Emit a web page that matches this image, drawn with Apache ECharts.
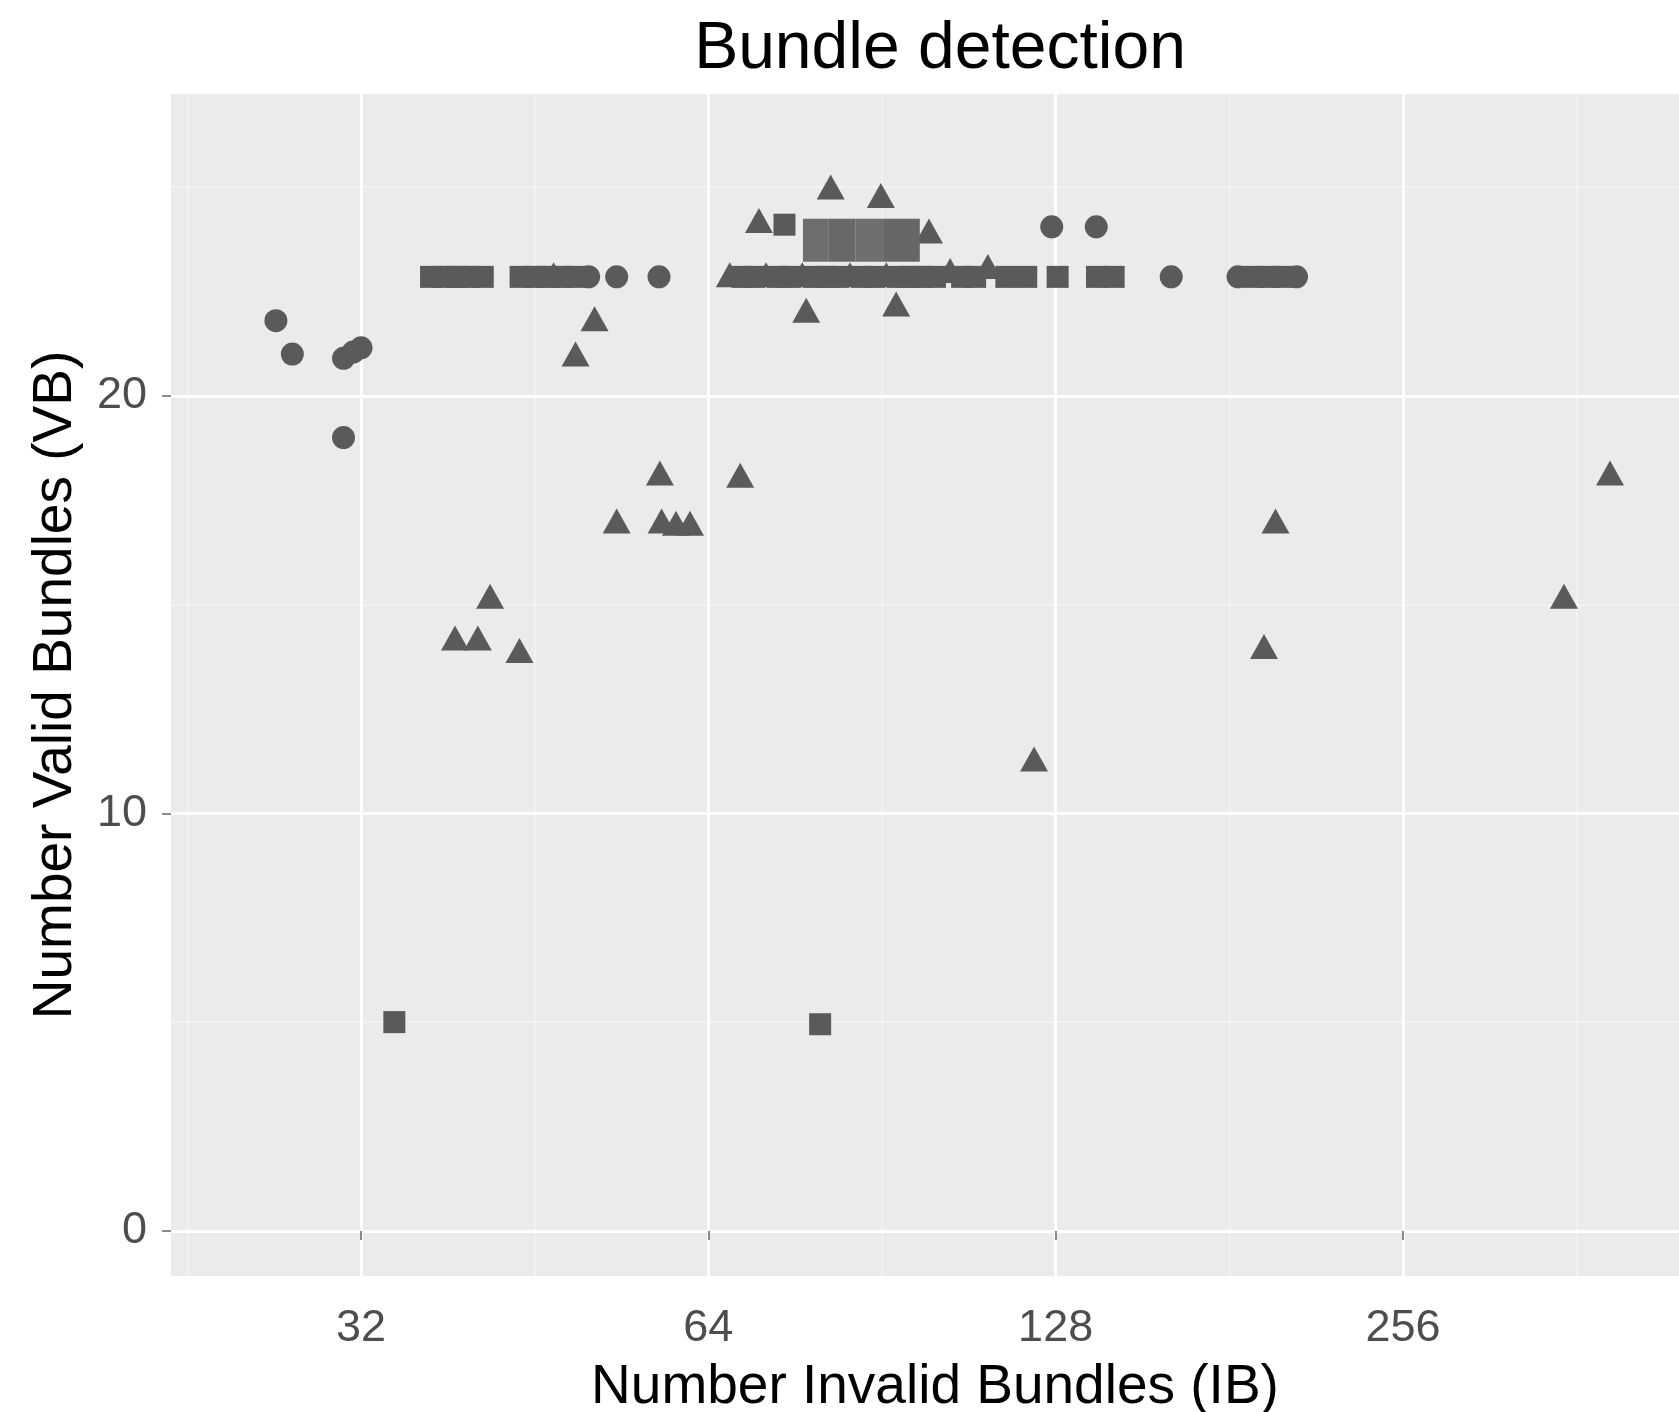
<!DOCTYPE html>
<html>
<head>
<meta charset="utf-8">
<script src="https://cdn.jsdelivr.net/npm/echarts@6/dist/echarts.min.js"></script>
<style>
  html, body { margin: 0; padding: 0; background: #ffffff; }
  #chart { width: 1679px; height: 1412px; }
</style>
</head>
<body>
<div id="chart"></div>
<script>
// Axis breaks (x is a log2 scale)
const xTicks = [32, 64, 128, 256];
const xMinorTicks = [22.63, 45.25, 90.51, 181.02, 362.04];
const yTicks = [0, 10, 20];
const yMinorTicks = [5, 15, 25];

// [invalid bundles, valid bundles]
const circles = [
  [27.0, 21.8], [27.9, 21.0], [30.9, 20.9], [31.5, 21.05], [32.0, 21.15], [30.9, 19.0],
  [50.4, 22.85], [53.3, 22.85], [58.0, 22.85],
  [127.0, 24.05], [138.8, 24.05],
  [161.2, 22.85], [184.2, 22.85], [207.0, 22.85]
];

const triangles = [
  [38.6, 14.2], [40.4, 14.2], [41.4, 15.2], [43.9, 13.9],
  [49.1, 21.0], [51.0, 21.85],
  [53.3, 17.0], [58.1, 18.15], [58.3, 17.0], [60.0, 16.95], [61.7, 16.95], [68.2, 18.1],
  [47.0, 22.9],
  [66.8, 22.9], [71.8, 22.9], [77.2, 22.9], [84.9, 22.9], [91.3, 22.9], [103.7, 23.0], [111.8, 23.1],
  [77.8, 22.05], [93.1, 22.2],
  [70.8, 24.2], [81.7, 25.0], [90.3, 24.8], [99.4, 23.95],
  [122.6, 11.3], [194.0, 14.0], [198.5, 17.0], [353.0, 15.2], [387.0, 18.15]
];

const squares = [
  [34.2, 5.0], [80.0, 4.95],
  [36.8, 22.85], [37.8, 22.85], [38.8, 22.85], [39.6, 22.85], [40.8, 22.85],
  [44.0, 22.85], [45.3, 22.85], [46.4, 22.85], [47.8, 22.85], [49.1, 22.85],
  [68.5, 22.85], [70.1, 22.85], [73.5, 22.85], [75.3, 22.85], [79.0, 22.85], [80.9, 22.85],
  [82.9, 22.85], [87.0, 22.85], [89.1, 22.85], [93.4, 22.85], [95.7, 22.85], [98.0, 22.85],
  [100.6, 22.85], [106.2, 22.85], [109.0, 22.85],
  [116.0, 22.85], [120.7, 22.85], [128.5, 22.85], [139.0, 22.85], [143.7, 22.85],
  [190.0, 22.85], [196.0, 22.85], [201.5, 22.85],
  [74.5, 24.1]
];

// Grey cover block over the dense top cluster
const coverXEdges = [77.3, 81.3, 85.8, 90.7, 97.6];
const coverYRange = [23.21, 24.24];
const coverShades = ['#6e6e6e', '#686868', '#6f6f6f', '#676767'];

const FONT = '"Liberation Sans", Arial, Helvetica, sans-serif';
const POINT = '#5a5a5a';
const X_MIN = 21.9, X_MAX = 444.1;
const Y_MIN = -1.08, Y_MAX = 27.23;

const coverAreas = coverShades.map((c, i) => [
  { xAxis: coverXEdges[i], yAxis: coverYRange[0], itemStyle: { color: c, opacity: 1 } },
  { xAxis: coverXEdges[i + 1], yAxis: coverYRange[1] }
]);

const chart = echarts.init(document.getElementById('chart'), null, { renderer: 'canvas' });

chart.setOption({
  animation: false,
  backgroundColor: '#ffffff',
  title: {
    text: 'Bundle detection',
    left: 935,
    top: 12,
    textAlign: 'center',
    textStyle: { fontFamily: FONT, fontSize: 66, fontWeight: 'normal', color: '#000000' }
  },
  grid: {
    left: 171, right: 0, top: 94, bottom: 136,
    show: true, backgroundColor: '#EBEBEB', borderWidth: 0,
    containLabel: false,
    outerBoundsMode: 'none'
  },
  xAxis: [
    {
      type: 'log', logBase: 2, min: X_MIN, max: X_MAX, z: 3,
      name: 'Number Invalid Bundles (IB)',
      nameLocation: 'middle', nameGap: 84,
      nameTextStyle: { fontFamily: FONT, fontSize: 55, color: '#000000', padding: [0, 0, 0, 20] },
      axisLine: { show: false },
      axisTick: { show: true, customValues: xTicks, length: 9, lineStyle: { color: '#666666', width: 1.5 } },
      axisLabel: {
        customValues: xTicks, fontFamily: FONT, fontSize: 45, color: '#4d4d4d', margin: 30,
        formatter: v => String(Math.round(v))
      },
      splitLine: { show: true, lineStyle: { color: '#ffffff', width: 3 } }
    },
    {
      type: 'log', logBase: 2, min: X_MIN, max: X_MAX, z: 1, position: 'bottom',
      axisLine: { show: false },
      axisTick: { show: false, customValues: xMinorTicks },
      axisLabel: { show: false, customValues: xMinorTicks },
      splitLine: { show: true, lineStyle: { color: '#F5F5F5', width: 1.5 } }
    }
  ],
  yAxis: [
    {
      type: 'value', min: Y_MIN, max: Y_MAX, z: 3,
      name: 'Number Valid Bundles (VB)',
      nameLocation: 'middle', nameGap: 88,
      nameTextStyle: { fontFamily: FONT, fontSize: 55, color: '#000000' },
      axisLine: { show: false },
      axisTick: { show: true, customValues: yTicks, length: 9, lineStyle: { color: '#666666', width: 1.5 } },
      axisLabel: { customValues: yTicks, fontFamily: FONT, fontSize: 45, color: '#4d4d4d', margin: 24 },
      splitLine: { show: true, lineStyle: { color: '#ffffff', width: 3 } }
    },
    {
      type: 'value', min: Y_MIN, max: Y_MAX, z: 1, position: 'left',
      axisLine: { show: false },
      axisTick: { show: false, customValues: yMinorTicks },
      axisLabel: { show: false, customValues: yMinorTicks },
      splitLine: { show: true, lineStyle: { color: '#F5F5F5', width: 1.5 } }
    }
  ],
  series: [
    {
      type: 'scatter', name: 'circle group', xAxisIndex: 0, yAxisIndex: 0,
      symbol: 'circle', symbolSize: 23,
      itemStyle: { color: POINT, opacity: 1 },
      data: circles, z: 3
    },
    {
      type: 'scatter', name: 'triangle group', xAxisIndex: 0, yAxisIndex: 0,
      symbol: 'triangle', symbolSize: [28, 25],
      itemStyle: { color: POINT, opacity: 1 },
      data: triangles, z: 3
    },
    {
      type: 'scatter', name: 'square group', xAxisIndex: 0, yAxisIndex: 0,
      symbol: 'rect', symbolSize: 22,
      itemStyle: { color: POINT, opacity: 1 },
      data: squares, z: 3
    },
    {
      type: 'scatter', name: 'cover', xAxisIndex: 0, yAxisIndex: 0,
      data: [], z: 6, silent: true,
      markArea: { silent: true, z: 6, itemStyle: { opacity: 1 }, data: coverAreas }
    }
  ]
});
</script>
</body>
</html>
